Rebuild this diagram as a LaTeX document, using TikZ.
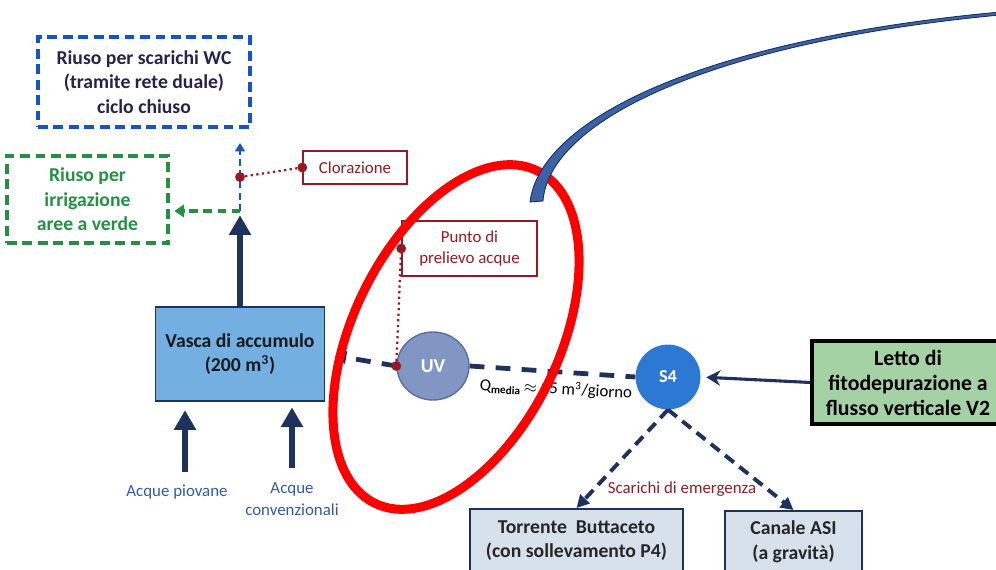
\documentclass[tikz,border=0pt]{standalone}
\usepackage{fontspec}
\setmainfont{Carlito}
\usetikzlibrary{arrows.meta,shapes.geometric,calc}
\definecolor{navyflow}{RGB}{30,50,92}
\definecolor{wcblue}{RGB}{20,85,195}
\definecolor{wctext}{RGB}{35,35,75}
\definecolor{irrgreen}{RGB}{35,145,65}
\definecolor{accred}{RGB}{150,25,35}
\definecolor{vascafill}{RGB}{115,175,225}
\definecolor{uvfill}{RGB}{130,150,195}
\definecolor{uvline}{RGB}{90,110,160}
\definecolor{sfourfill}{RGB}{45,120,210}
\definecolor{lettofill}{RGB}{165,210,165}
\definecolor{outfill}{RGB}{215,225,235}
\definecolor{labblue}{RGB}{50,90,170}
\definecolor{calloutfill}{RGB}{60,98,165}
\definecolor{calloutline}{RGB}{25,45,90}
\tikzset{
  % testi
  boldtxt/.style  = {font=\bfseries\fontsize{14}{17.5}\selectfont, align=center},
  smalltxt/.style = {font=\fontsize{12}{15}\selectfont, align=center},
  % riquadri
  reusebox/.style = {draw, line width=2.8pt, dash pattern=on 7pt off 4pt, inner sep=0pt, boldtxt},
  notebox/.style  = {draw=accred, line width=1pt, text=accred, smalltxt, inner sep=0pt},
  outbox/.style   = {draw=navyflow, line width=1.2pt, fill=outfill, text=black!85, boldtxt, inner sep=0pt},
  % frecce
  bigflow/.style  = {navyflow, line width=4.8pt, -{Triangle[width=15pt,length=14pt]}},
  dashflow/.style = {navyflow, line width=3.4pt, dash pattern=on 10.5pt off 8pt},
  dashout/.style  = {navyflow, line width=2.8pt, dash pattern=on 8pt off 5pt, -{Triangle[width=9pt,length=9pt]}},
  dotlink/.style  = {accred, line width=1.6pt, dash pattern=on 1.6pt off 2.4pt},
  reddot/.style   = {circle, fill=accred, inner sep=0pt, minimum size=7pt},
}
\begin{document}
\begin{tikzpicture}[x=0.025cm, y=-0.025cm]
  \useasboundingbox (0,0) rectangle (996,570);
  \clip (0,0) rectangle (996,570);
  % riquadri di riuso
  \node[reusebox, draw=wcblue, text=wctext, minimum width=5.3cm, minimum height=2.25cm] (wc) at (144,82)
    {Riuso per scarichi WC\\(tramite rete duale)\\ciclo chiuso};
  \node[reusebox, draw=irrgreen, text=irrgreen, minimum width=4.03cm, minimum height=2.18cm] (irr) at (87.5,199.5)
    {Riuso per\\irrigazione\\aree a verde};
  \node[notebox, minimum width=2.6cm, minimum height=0.83cm] (clor) at (355,167.5) {Clorazione};
  \node[notebox, minimum width=3.38cm, minimum height=1.38cm] (prel) at (469.5,248.5) {Punto di\\prelievo acque};
  % vasca e trattamenti
  \node[draw=navyflow, line width=1pt, fill=vascafill, boldtxt, text=black!90, minimum width=4.23cm, minimum height=2.35cm] (vasca) at (240,354)
    {Vasca di accumulo\\(200 m\textsuperscript{3})};
  \node[ellipse, draw=uvline, line width=1pt, fill=uvfill, text=white, boldtxt, minimum width=1.8cm, minimum height=1.7cm, inner sep=0pt] (uv) at (433,366) {UV};
  \node[circle, fill=sfourfill, text=white, font=\bfseries\fontsize{13}{15}\selectfont, minimum size=1.62cm, inner sep=0pt] (sfour) at (668,377) {S4};
  \node[draw=black, line width=2.4pt, fill=lettofill, boldtxt, font=\bfseries\fontsize{15.5}{17.8}\selectfont, minimum width=4.8cm, minimum height=2.08cm, inner sep=0pt] (letto) at (908,382.5)
    {Letto di\\fitodepurazione a\\flusso verticale V2};
  \node[outbox, minimum width=5.33cm, minimum height=1.58cm] (torr) at (576.5,540.5) {Torrente~~Buttaceto\\(con sollevamento P4)};
  \node[outbox, minimum width=3.43cm, minimum height=1.53cm] (canale) at (793.5,541.5) {Canale ASI\\(a gravità)};
  % etichette
  \node[smalltxt, text=labblue] (piov) at (177,492) {Acque piovane};
  \node[smalltxt, text=labblue, font=\fontsize{12}{15.5}\selectfont] (conv) at (292,499.5) {Acque\\convenzionali};
  \node[smalltxt, text=accred] (emerg) at (682,489) {Scarichi di emergenza};
  \node[smalltxt, rotate=-3] (qlab) at (556,389) {Q\textsubscript{\bfseries media}\,$\approx$ 25 m\textsuperscript{3}/giorno};
  % coordinate
  \coordinate (junc) at (240,211);
  \coordinate (wcin) at (240,143);
  \coordinate (piovin) at (185,472);
  \coordinate (convin) at (292,468);
  % frecce principali
  \draw[bigflow, shorten >=3pt] (vasca.north) -- (vasca.north |- junc);
  \draw[bigflow, shorten >=6pt] (piovin) -- (piovin |- vasca.south);
  \draw[bigflow, shorten >=4pt] (convin) -- (convin |- vasca.south);
  \draw[wcblue, line width=1.8pt, dash pattern=on 5pt off 3pt, -{Triangle[width=7pt,length=6pt]}] (junc) -- (wcin);
  \draw[irrgreen, line width=2.2pt, dash pattern=on 6pt off 4pt, -{Triangle[width=9pt,length=7pt]}, shorten >=3pt] (junc) -- (irr.east |- junc);
  \draw[dashflow, -{Triangle[width=9pt,length=8pt]}, shorten >=7pt] (uv.west) -- (vasca.east);
  \draw[dashflow] (uv.east) -- (sfour.west);
  \draw[navyflow, line width=2.2pt, -{Stealth[width=11pt,length=10pt]}, shorten >=4pt] (letto.west) -- (sfour.east);
  \draw[dashout] (sfour.south) -- (torr.north);
  \draw[dashout] (sfour.south) -- (canale.north);
  % punti di controllo
  \node[reddot] (cldot) at (240,177) {};
  \node[reddot] (clin) at (clor.west) {};
  \draw[dotlink] (cldot) -- (clin);
  \node[reddot] (uvdot) at (uv.west) {};
  \node[reddot] (prdot) at (prel.west) {};
  \draw[dotlink] (uvdot) -- (prdot);
  % evidenziazione
  \draw[red, line width=6.4pt, rotate around={-26:(456,337)}] (456,337) ellipse [x radius=103, y radius=185];
  \filldraw[fill=calloutfill, draw=calloutline, line width=0.6pt]
    (530,202) .. controls (540,120) and (700,40) .. (1000,12) -- (1000,15)
    .. controls (704,43) and (549,123) .. (543,201) -- cycle;
\end{tikzpicture}
\end{document}
